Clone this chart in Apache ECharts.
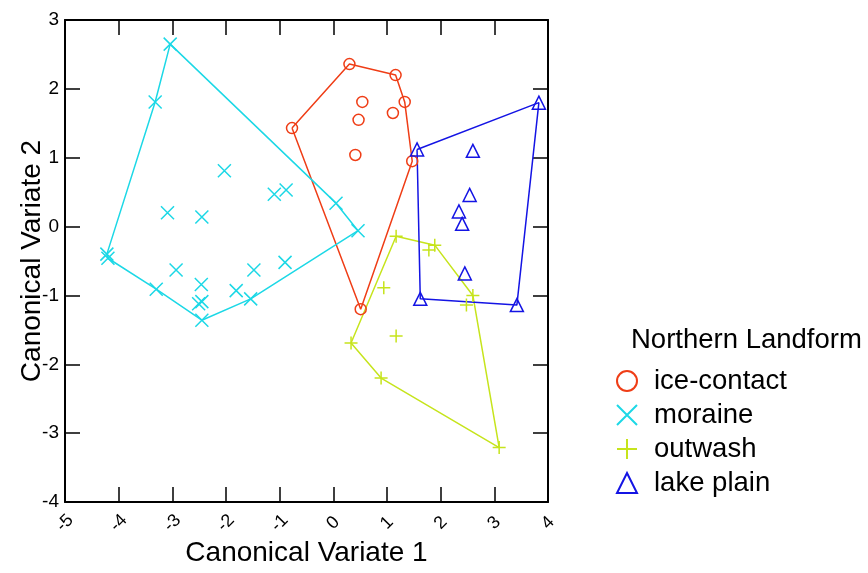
<!DOCTYPE html>
<html style='height: 100%'>
<head>
    <meta charset='utf-8'>
</head>
<body style='height: 100%; margin: 0; background: #fff'>
    <div id='container' style='width: 868px; height: 573px'></div>
    <script type='text/javascript' src='https://cdn.jsdelivr.net/npm/echarts@6/dist/echarts.min.js'></script>
    <script type="text/javascript">
// canonical variate scores, [cv1, cv2]
var iceContact = [
    [-0.77, 1.43], [0.30, 2.36], [1.16, 2.20], [1.33, 1.81], [0.54, 1.81],
    [1.11, 1.65], [0.47, 1.55], [0.41, 1.04], [1.47, 0.95], [0.51, -1.20]
];
var moraine = [
    [-3.04, 2.65], [-3.32, 1.81], [-2.03, 0.81], [-1.10, 0.47], [-0.88, 0.53],
    [-3.09, 0.20], [-2.45, 0.14], [0.05, 0.34], [0.46, -0.06], [-4.22, -0.40],
    [-4.20, -0.46], [-2.93, -0.63], [-3.30, -0.91], [-2.46, -0.84], [-2.51, -1.12],
    [-2.45, -1.09], [-2.45, -1.36], [-1.81, -0.93], [-1.54, -1.05], [-1.48, -0.63],
    [-0.90, -0.52]
];
var outwash = [
    [1.17, -0.14], [1.89, -0.27], [1.78, -0.34], [0.94, -0.89], [2.60, -1.00],
    [2.48, -1.14], [0.33, -1.69], [1.17, -1.59], [0.89, -2.20], [3.09, -3.21]
];
var lakePlain = [
    [1.56, 1.12], [3.83, 1.80], [2.60, 1.10], [2.54, 0.46], [2.34, 0.22],
    [2.40, 0.04], [2.45, -0.68], [1.62, -1.05], [3.42, -1.14]
];

// convex hull vertices (indices into the arrays above)
var iceHull = [0, 1, 2, 3, 8, 9];
var moraineHull = [0, 7, 8, 18, 16, 12, 10, 9, 1];
var outwashHull = [0, 1, 4, 9, 8, 6];
var lakeHull = [0, 1, 8, 7];

var groups = ['ice-contact', 'moraine', 'outwash', 'lake plain'];
var xTicks = [-5, 4];
var yTicks = [-4, 3];

var colors = ['#ef3d16', '#1cd8e6', '#c6e41c', '#1414e4'];
var symbols = [
    'circle',
    'path://M0,0L10,10M10,0L0,10',
    'path://M5,0L5,10M0,5L10,5',
    'triangle'
];
var sizes = [11, 13, 13, 13];
var sets = [iceContact, moraine, outwash, lakePlain];
var hulls = [iceHull, moraineHull, outwashHull, lakeHull];

var series = [];
for (var g = 0; g < 4; g++) {
    var ring = hulls[g].map(function (i) { return sets[g][i]; });
    ring.push(ring[0]);
    series.push({
        name: groups[g] + ' hull',
        type: 'line',
        data: ring,
        symbol: 'none',
        silent: true,
        lineStyle: {color: colors[g], width: 1.5},
        z: 1
    });
}
for (var g = 0; g < 4; g++) {
    series.push({
        name: groups[g],
        type: 'scatter',
        data: sets[g],
        symbol: symbols[g],
        symbolSize: sizes[g],
        itemStyle: {color: 'transparent', borderColor: colors[g], borderWidth: 1.5, opacity: 1},
        z: 3
    });
}

var axisLine = {show: true, onZero: false, lineStyle: {color: '#000', width: 2}};
var axisTick = {show: true, inside: true, length: 15, lineStyle: {color: '#000', width: 1.5}};
var font = 'Liberation Sans, Arial, sans-serif';

var myChart = echarts.init(document.getElementById('container'));
var option = {
    animation: false,
    backgroundColor: '#fff',
    title: {
        text: 'Northern Landform',
        left: 626, top: 321,
        textStyle: {fontFamily: font, fontSize: 27.5, fontWeight: 'normal', color: '#000'}
    },
    legend: {
        data: groups,
        orient: 'vertical',
        left: 611, top: 362,
        itemWidth: 20, itemHeight: 20, itemGap: 6,
        textStyle: {fontFamily: font, fontSize: 27.5, lineHeight: 28, color: '#000', padding: [0, 0, 0, 12]}
    },
    grid: {left: 65, right: 320, top: 20, bottom: 71, outerBoundsMode: 'none', containLabel: false},
    xAxis: [{
        type: 'value', min: xTicks[0], max: xTicks[1], interval: 1,
        name: 'Canonical Variate 1', nameLocation: 'middle', nameGap: 37, nameMoveOverlap: false,
        nameTextStyle: {fontFamily: font, fontSize: 28, color: '#000'},
        axisLine: axisLine, axisTick: axisTick, splitLine: {show: false},
        axisLabel: {rotate: 45, margin: 21, align: 'center', verticalAlign: 'middle',
            fontFamily: font, fontSize: 18, color: '#000'}
    }, {
        type: 'value', position: 'top', min: xTicks[0], max: xTicks[1], interval: 1,
        axisLine: axisLine, axisTick: axisTick, splitLine: {show: false},
        axisLabel: {show: false}
    }],
    yAxis: [{
        type: 'value', min: yTicks[0], max: yTicks[1], interval: 1,
        name: 'Canonical Variate 2', nameLocation: 'middle', nameGap: 19, nameMoveOverlap: false,
        nameTextStyle: {fontFamily: font, fontSize: 28, color: '#000'},
        axisLine: axisLine, axisTick: axisTick, splitLine: {show: false},
        axisLabel: {margin: 6, fontFamily: font, fontSize: 19, color: '#000'}
    }, {
        type: 'value', position: 'right', min: yTicks[0], max: yTicks[1], interval: 1,
        axisLine: axisLine, axisTick: axisTick, splitLine: {show: false},
        axisLabel: {show: false}
    }],
    series: series
};
myChart.setOption(option, true);
    </script>
</body>
</html>
